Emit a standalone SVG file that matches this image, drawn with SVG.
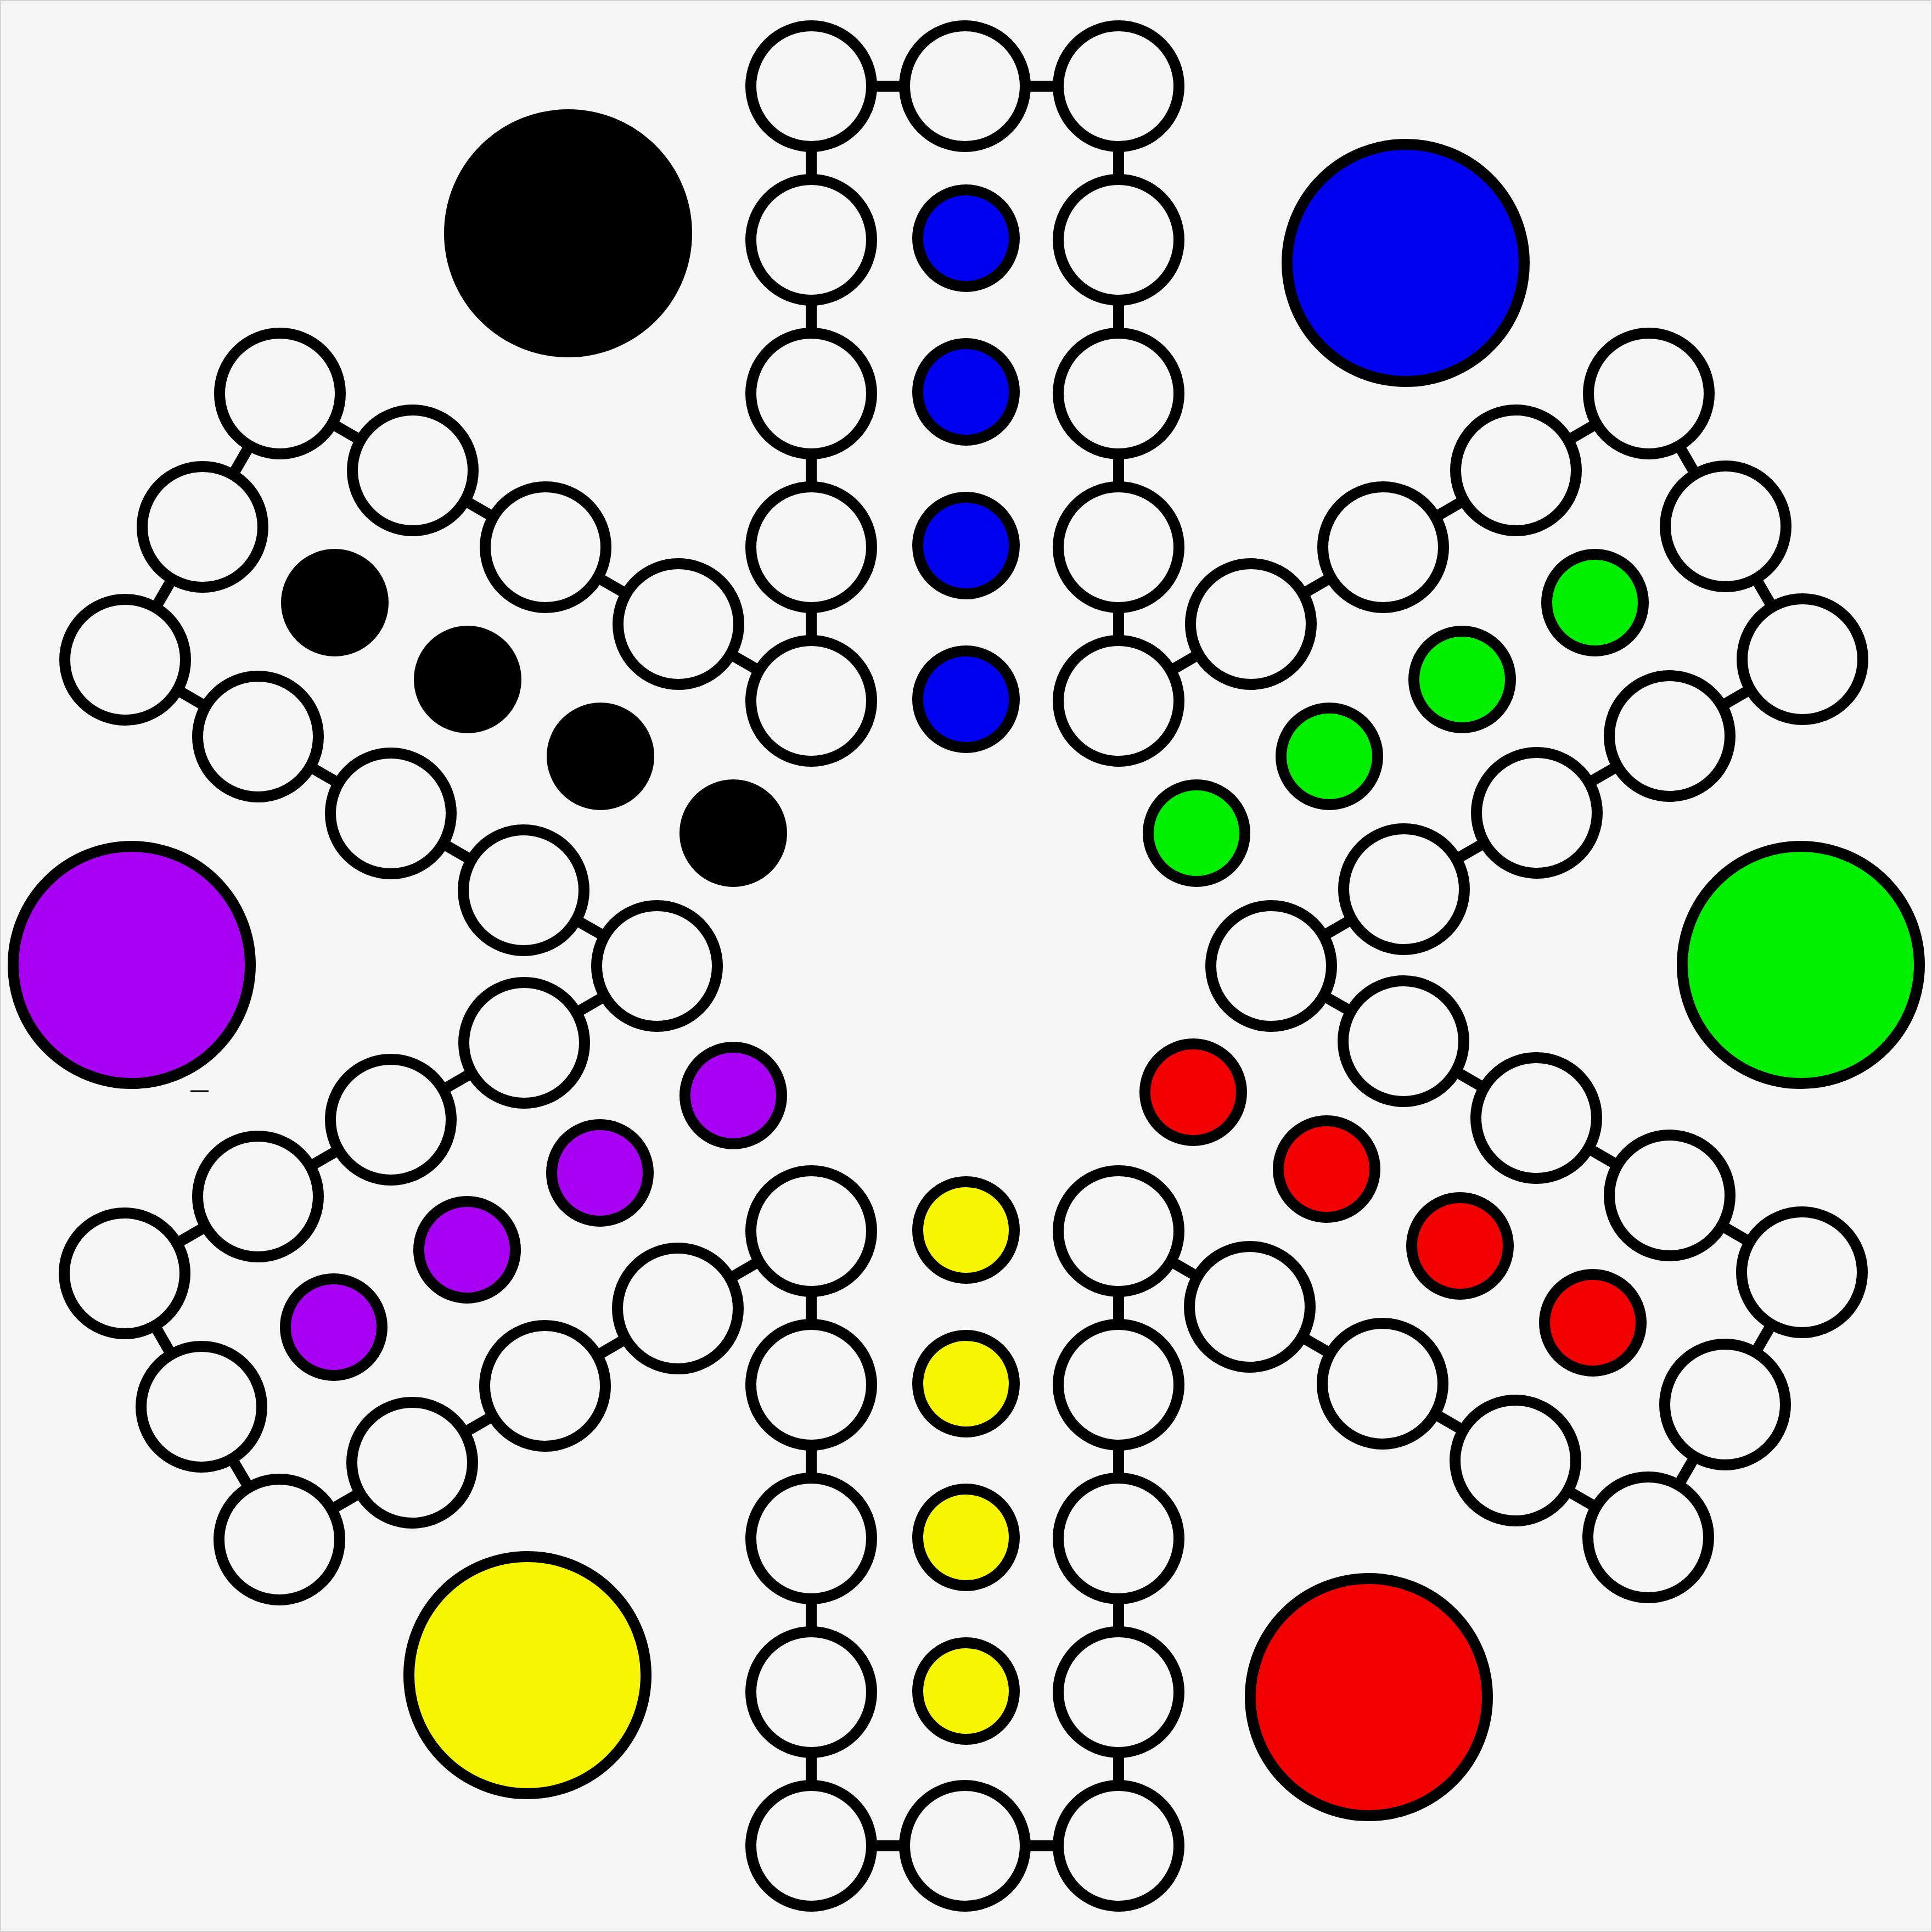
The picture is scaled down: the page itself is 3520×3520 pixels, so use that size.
<svg xmlns="http://www.w3.org/2000/svg" width="3520" height="3520" viewBox="0 0 3520 3520">
<style>
.bg{fill:#f5f5f5}
.hole{fill:#f5f5f5;stroke:#000;stroke-width:20}
.dot{stroke:#000;stroke-width:20}
.home{stroke:#000;stroke-width:20}
.link{fill:none;stroke:#000;stroke-width:20}
.blk{fill:#000}.blu{fill:#0000f0}.grn{fill:#00f000}.pur{fill:#a800f3}.yel{fill:#f6f600}.red{fill:#f30000}
</style>
<rect class="bg" x="0" y="0" width="3520" height="3520"/>
<rect x="1" y="1" width="3518" height="3518" fill="none" stroke="#d4d4d4" stroke-width="2"/>
<g id="connectors">
<polyline class="link" points="1478,1277 1478,157 1758,157 2038,157 2038,1277"/>
<polyline class="link" points="1478,2243 1478,3363 1758,3363 2038,3363 2038,2243"/>
<polyline class="link" points="1478,1277 1236,1137 994,997 752,857 510,717 369,960 228,1202 470,1342 712,1482 954,1622 1197,1760"/>
<polyline class="link" points="1197,1760 955,1900 712,2040 470,2180 227,2320 367,2563 509,2805 751,2665 993,2525 1235,2384 1478,2243"/>
<polyline class="link" points="2038,1277 2279,1137 2520,997 2762,857 3004,717 3144,959 3284,1201 3042,1341 2800,1481 2558,1620 2316,1760"/>
<polyline class="link" points="2316,1760 2557,1897 2799,2037 3042,2178 3283,2318 3143,2559 3003,2801 2761,2661 2519,2521 2277,2381 2038,2243"/>
</g>
<g id="top-column">
<circle class="hole" cx="1478" cy="157" r="110"/><circle class="hole" cx="1758" cy="157" r="110"/><circle class="hole" cx="2038" cy="157" r="110"/>
<circle class="hole" cx="1478" cy="437" r="110"/><circle class="hole" cx="2038" cy="437" r="110"/>
<circle class="hole" cx="1478" cy="717" r="110"/><circle class="hole" cx="2038" cy="717" r="110"/>
<circle class="hole" cx="1478" cy="997" r="110"/><circle class="hole" cx="2038" cy="997" r="110"/>
<circle class="hole" cx="1478" cy="1277" r="110"/><circle class="hole" cx="2038" cy="1277" r="110"/>
</g>
<g id="bottom-column">
<circle class="hole" cx="1478" cy="2243" r="110"/><circle class="hole" cx="2038" cy="2243" r="110"/>
<circle class="hole" cx="1478" cy="2523" r="110"/><circle class="hole" cx="2038" cy="2523" r="110"/>
<circle class="hole" cx="1478" cy="2803" r="110"/><circle class="hole" cx="2038" cy="2803" r="110"/>
<circle class="hole" cx="1478" cy="3083" r="110"/><circle class="hole" cx="2038" cy="3083" r="110"/>
<circle class="hole" cx="1478" cy="3363" r="110"/><circle class="hole" cx="1758" cy="3363" r="110"/><circle class="hole" cx="2038" cy="3363" r="110"/>
</g>
<g id="upper-left-arm">
<circle class="hole" cx="1236" cy="1137" r="110"/><circle class="hole" cx="994" cy="997" r="110"/><circle class="hole" cx="752" cy="857" r="110"/><circle class="hole" cx="510" cy="717" r="110"/>
<circle class="hole" cx="369" cy="960" r="110"/><circle class="hole" cx="228" cy="1202" r="110"/>
<circle class="hole" cx="470" cy="1342" r="110"/><circle class="hole" cx="712" cy="1482" r="110"/><circle class="hole" cx="954" cy="1622" r="110"/>
<circle class="hole" cx="1197" cy="1760" r="110"/>
</g>
<g id="lower-left-arm">
<circle class="hole" cx="955" cy="1900" r="110"/><circle class="hole" cx="712" cy="2040" r="110"/><circle class="hole" cx="470" cy="2180" r="110"/><circle class="hole" cx="227" cy="2320" r="110"/>
<circle class="hole" cx="367" cy="2563" r="110"/><circle class="hole" cx="509" cy="2805" r="110"/>
<circle class="hole" cx="751" cy="2665" r="110"/><circle class="hole" cx="993" cy="2525" r="110"/><circle class="hole" cx="1235" cy="2384" r="110"/>
</g>
<g id="upper-right-arm">
<circle class="hole" cx="2279" cy="1137" r="110"/><circle class="hole" cx="2520" cy="997" r="110"/><circle class="hole" cx="2762" cy="857" r="110"/><circle class="hole" cx="3004" cy="717" r="110"/>
<circle class="hole" cx="3144" cy="959" r="110"/><circle class="hole" cx="3284" cy="1201" r="110"/>
<circle class="hole" cx="3042" cy="1341" r="110"/><circle class="hole" cx="2800" cy="1481" r="110"/><circle class="hole" cx="2558" cy="1620" r="110"/>
<circle class="hole" cx="2316" cy="1760" r="110"/>
</g>
<g id="lower-right-arm">
<circle class="hole" cx="2557" cy="1897" r="110"/><circle class="hole" cx="2799" cy="2037" r="110"/><circle class="hole" cx="3042" cy="2178" r="110"/><circle class="hole" cx="3283" cy="2318" r="110"/>
<circle class="hole" cx="3143" cy="2559" r="110"/><circle class="hole" cx="3003" cy="2801" r="110"/>
<circle class="hole" cx="2761" cy="2661" r="110"/><circle class="hole" cx="2519" cy="2521" r="110"/><circle class="hole" cx="2277" cy="2381" r="110"/>
</g>
<g id="blue-pieces">
<circle class="dot blu" cx="1760" cy="434" r="88"/><circle class="dot blu" cx="1760" cy="714" r="88"/><circle class="dot blu" cx="1760" cy="994" r="88"/><circle class="dot blu" cx="1760" cy="1274" r="88"/>
</g>
<g id="black-pieces">
<circle class="dot blk" cx="610" cy="1098" r="88"/><circle class="dot blk" cx="852" cy="1238" r="88"/><circle class="dot blk" cx="1094" cy="1378" r="88"/><circle class="dot blk" cx="1336" cy="1518" r="88"/>
</g>
<g id="green-pieces">
<circle class="dot grn" cx="2180" cy="1518" r="88"/><circle class="dot grn" cx="2422" cy="1378" r="88"/><circle class="dot grn" cx="2664" cy="1238" r="88"/><circle class="dot grn" cx="2906" cy="1098" r="88"/>
</g>
<g id="purple-pieces">
<circle class="dot pur" cx="1336" cy="1996" r="88"/><circle class="dot pur" cx="1093" cy="2137" r="88"/><circle class="dot pur" cx="851" cy="2277" r="88"/><circle class="dot pur" cx="608" cy="2418" r="88"/>
</g>
<g id="yellow-pieces">
<circle class="dot yel" cx="1760" cy="2241" r="88"/><circle class="dot yel" cx="1760" cy="2521" r="88"/><circle class="dot yel" cx="1760" cy="2801" r="88"/><circle class="dot yel" cx="1760" cy="3081" r="88"/>
</g>
<g id="red-pieces">
<circle class="dot red" cx="2174" cy="1990" r="88"/><circle class="dot red" cx="2417" cy="2130" r="88"/><circle class="dot red" cx="2660" cy="2270" r="88"/><circle class="dot red" cx="2902" cy="2410" r="88"/>
</g>
<g id="home-black"><circle class="home blk" cx="1035" cy="425" r="216"/></g>
<g id="home-blue"><circle class="home blu" cx="2561" cy="479" r="216"/></g>
<g id="home-purple"><circle class="home pur" cx="240" cy="1758" r="216"/></g>
<g id="home-green"><circle class="home grn" cx="3281" cy="1758" r="216"/></g>
<g id="home-yellow"><circle class="home yel" cx="961" cy="3052" r="216"/></g>
<g id="home-red"><circle class="home red" cx="2494" cy="3092" r="216"/></g>
<line x1="347" y1="1988" x2="380" y2="1988" stroke="#000" stroke-width="3"/>
</svg>
